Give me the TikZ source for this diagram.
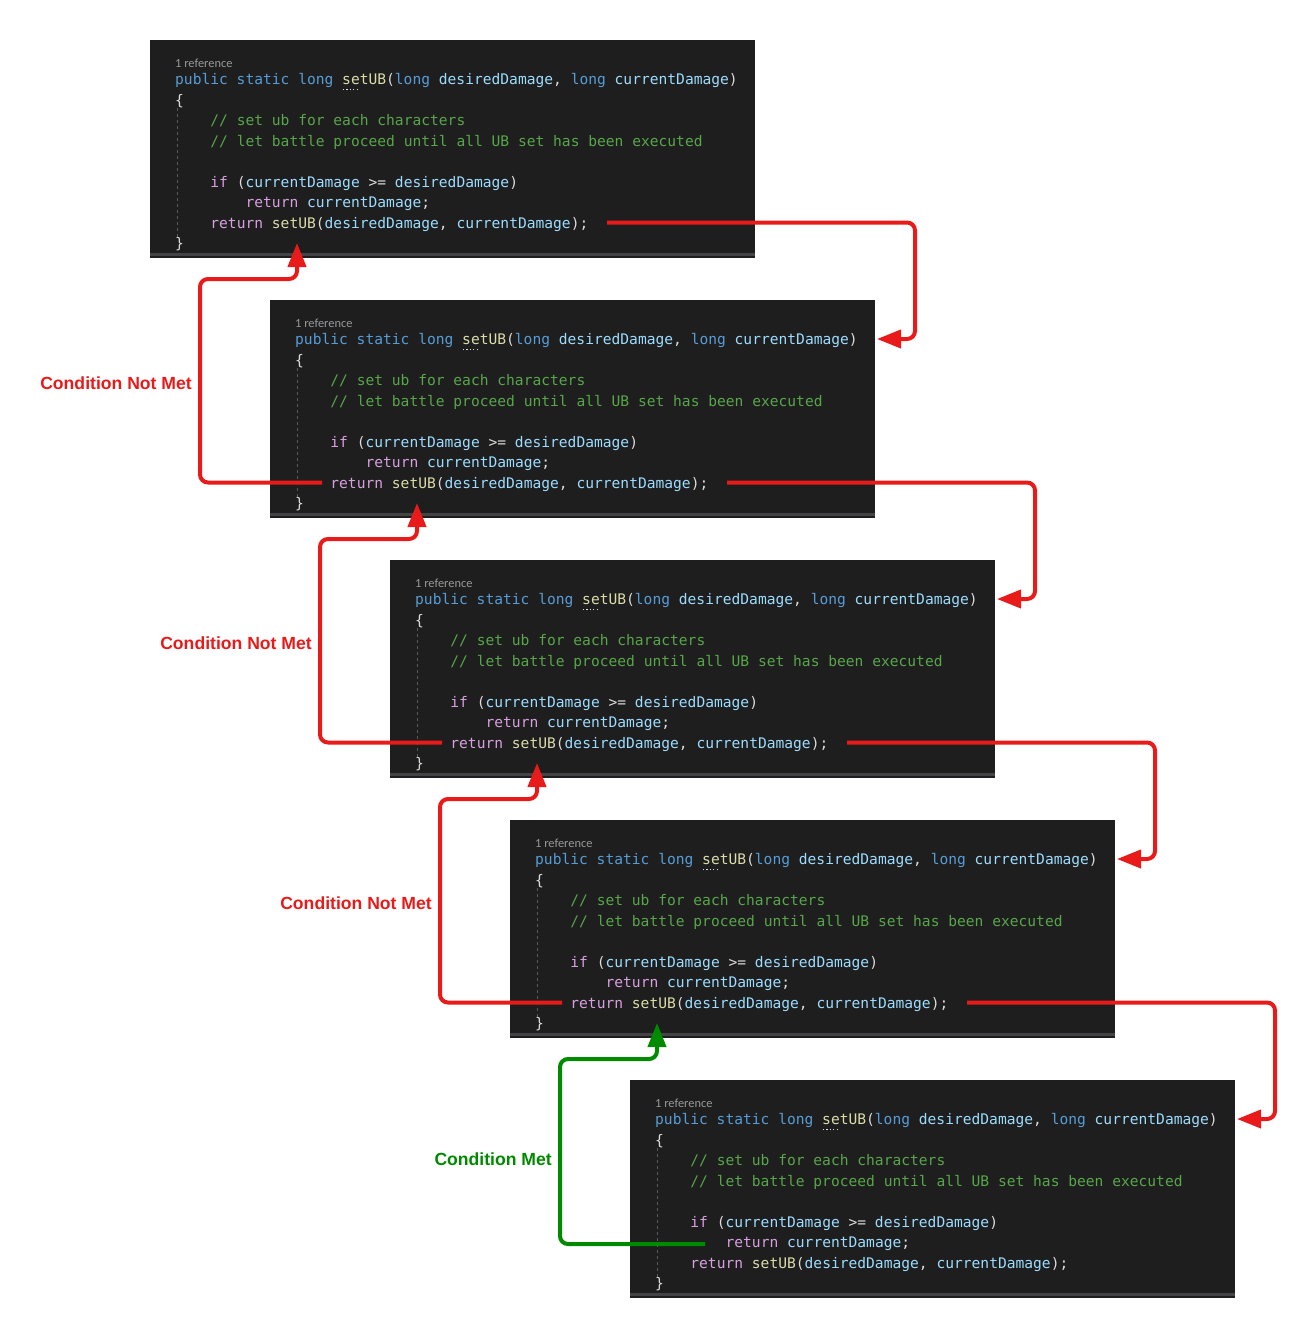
\documentclass[tikz,border=0pt]{standalone}
\usepackage{fontspec}
\setmainfont{Liberation Sans}
\newfontfamily\codefont{DejaVu Sans Mono}
\newfontfamily\uifont{Carlito}
\usetikzlibrary{arrows.meta,calc}

\definecolor{vsbg}{HTML}{1E1E1E}
\definecolor{vsband}{HTML}{434346}
\definecolor{vsguide}{HTML}{5A5A5A}
\definecolor{vskey}{HTML}{569CD6}
\definecolor{vsfn}{HTML}{DCDCAA}
\definecolor{vsvar}{HTML}{9CDCFE}
\definecolor{vscom}{HTML}{57A64A}
\definecolor{vsctl}{HTML}{D8A0DF}
\definecolor{vstxt}{HTML}{DCDCDC}
\definecolor{vsref}{HTML}{999999}
\definecolor{notmet}{RGB}{232,26,26}
\definecolor{met}{RGB}{0,138,0}

\newcommand{\ckw}[1]{\textcolor{vskey}{#1}}
\newcommand{\cfn}[1]{\textcolor{vsfn}{#1}}
\newcommand{\cvar}[1]{\textcolor{vsvar}{#1}}
\newcommand{\cctl}[1]{\textcolor{vsctl}{#1}}

\begin{document}
\begin{tikzpicture}[x=1pt, y=-1pt,
  codebox/.style={fill=vsbg, draw=none, minimum width=605pt, minimum height=218pt, inner sep=0pt, anchor=north west},
  code/.style={anchor=base west, inner sep=0pt, text=vstxt, font=\codefont\fontsize{14.6}{17}\selectfont},
  refnote/.style={anchor=base west, inner sep=0pt, text=vsref, font=\uifont\fontsize{12.4}{14}\selectfont},
  notmetline/.style={draw=notmet, line width=4pt, rounded corners=8pt, -{Triangle[length=24pt,width=18pt]}},
  metline/.style={draw=met, line width=4pt, rounded corners=8pt, -{Triangle[length=24pt,width=18pt]}},
  notmettext/.style={anchor=east, inner sep=0pt, text=notmet, font=\bfseries\fontsize{17.6}{20}\selectfont},
  mettext/.style={anchor=east, inner sep=0pt, text=met, font=\bfseries\fontsize{17.6}{20}\selectfont}]

\useasboundingbox (0,0) rectangle (1315,1338);

% the five copies of the method
\foreach \i in {0,...,4}{
\begin{scope}[shift={(150+120*\i,40+260*\i)}]
\node[codebox] (box\i) at (0,0) {};
\draw[vsband, line width=2.5pt] ([yshift=4pt]box\i.south west) -- ([yshift=4pt]box\i.south east);
\draw[vsguide, line width=0.8pt, dash pattern=on 3pt off 3pt] (27,68) -- (27,200);

\node[refnote] (ref\i) at (25,27) {1 reference};
\node[code] (sig\i) at (25,44.5) {\ckw{public static long} \cfn{setUB}(\ckw{long} \cvar{desiredDamage}, \ckw{long} \cvar{currentDamage})};
\draw[vstxt, line width=1pt, dash pattern=on 1.2pt off 2.2pt] (193,49) -- (207,49);
\node[code] (open\i) at (25,65) {\{};
\node[code, text=vscom] (cma\i) at (60.2,85.5) {// set ub for each characters};
\node[code, text=vscom] (cmb\i) at (60.2,106) {// let battle proceed until all UB set has been executed};
\node[code] (if\i) at (60.2,147) {\cctl{if} (\cvar{currentDamage} >= \cvar{desiredDamage})};
\node[code] (retc\i) at (95.4,167.5) {\cctl{return} \cvar{currentDamage};};
\node[code] (rets\i) at (60.2,188) {\cctl{return} \cfn{setUB}(\cvar{desiredDamage}, \cvar{currentDamage});};
\node[code] (close\i) at (25,208.5) {\}};

\coordinate (rout\i) at (457,182.5);
\coordinate (lout\i) at (52,182.5);
\coordinate (in\i) at (607,39);
\coordinate (up\i) at (147,203);
\coordinate (rk\i) at (765,299);
\coordinate (lk\i) at (50,239);
\coordinate (met\i) at (75,164);
\end{scope}
}

% recursive calls
\foreach \a/\b in {0/1,1/2,2/3,3/4}
\draw[notmetline] (rout\a) -| (rk\a) -- (in\b);

% returns while the condition is not met
\foreach \a/\b in {0/1,1/2,2/3}
\draw[notmetline] (lout\b) -| (lk\a) -| (up\a);

\foreach \a in {0,1,2}
\node[notmettext] (label\a) at ($(lk\a)+(-8,104)$) {Condition Not Met};

% return once the condition is met
\draw[metline] (met4) -| (lk3) -| (up3);
\node[mettext] (label3) at ($(lk3)+(-8,100)$) {Condition Met};

\end{tikzpicture}
\end{document}
